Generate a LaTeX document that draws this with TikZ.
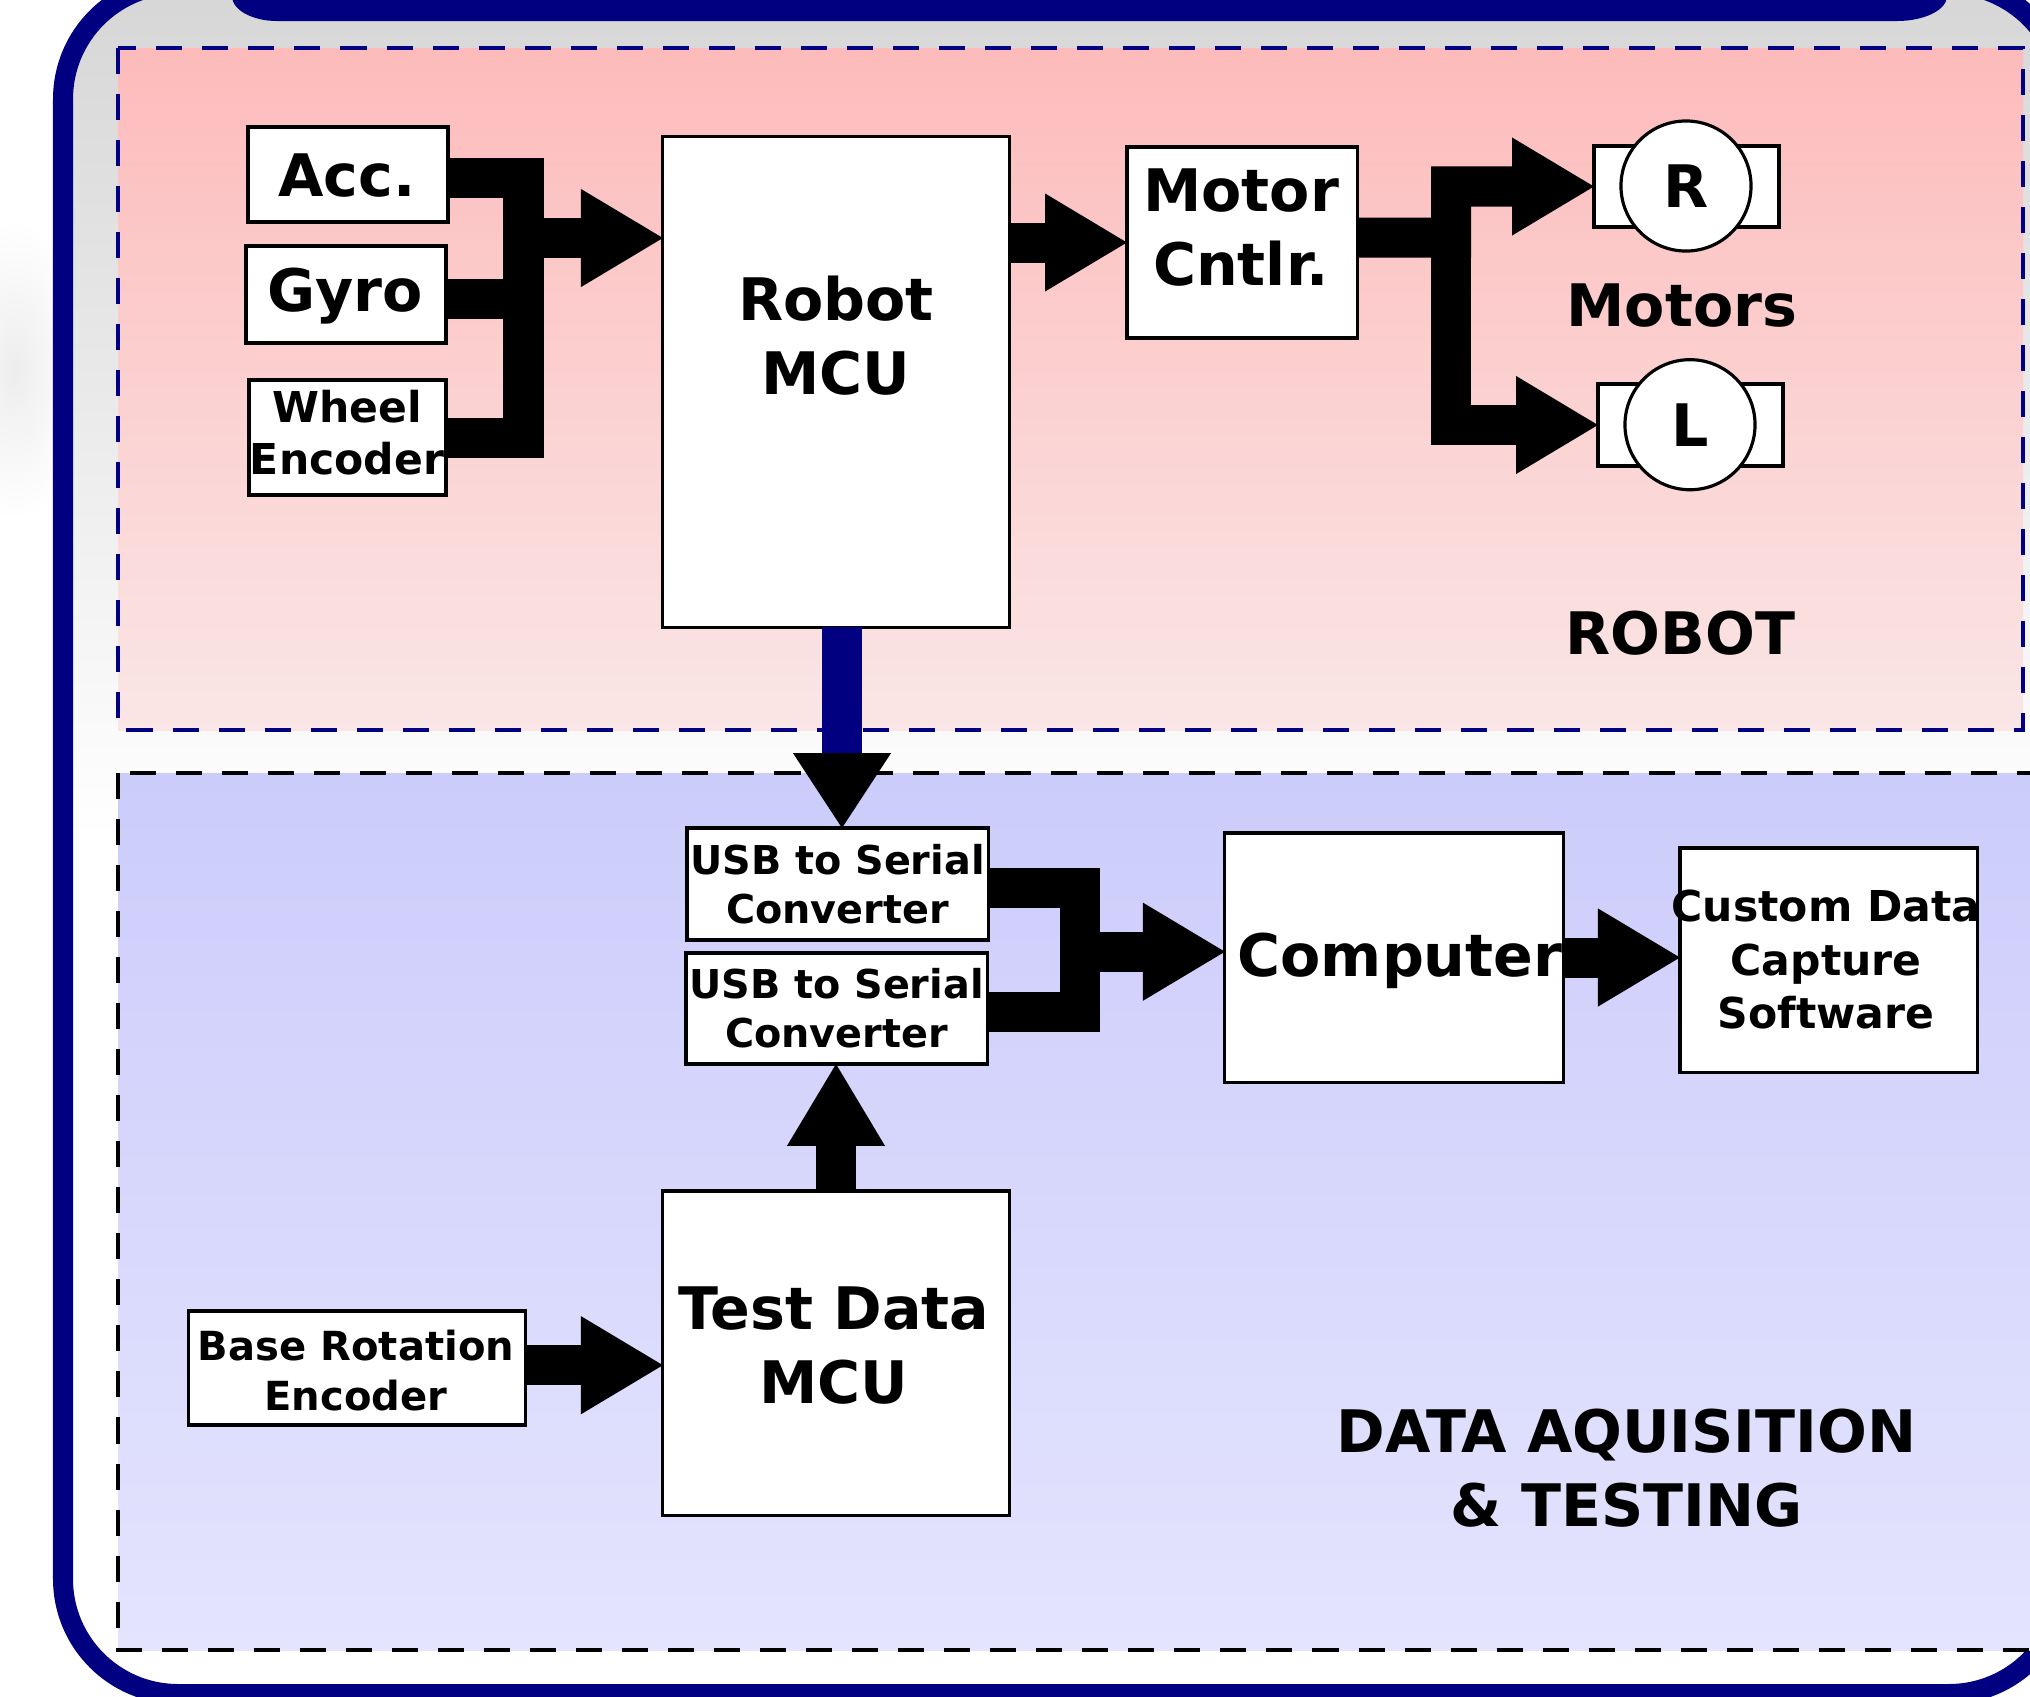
\documentclass[tikz,border=0pt]{standalone}
\usepackage{fontspec}
\setmainfont{DejaVu Sans}
\usetikzlibrary{arrows.meta}
\definecolor{navyb}{HTML}{000080}
\definecolor{rtop}{RGB}{253,187,187}
\definecolor{rbot}{RGB}{250,230,230}
\definecolor{dtop}{RGB}{204,204,251}
\definecolor{dbot}{RGB}{228,228,254}
\definecolor{gtop}{RGB}{214,214,214}
\newcommand\mlines[1]{\begin{tabular}[t]{@{}c@{}}#1\end{tabular}}
\begin{document}
\begin{tikzpicture}[x=0.01cm,y=-0.01cm,
  box/.style={draw=black, fill=white, line width=0.9pt, inner sep=0pt, outer sep=0pt, rectangle},
  bigf/.style={font=\fontsize{16.67}{21.05}\selectfont\bfseries},
  usbf/.style={font=\fontsize{11.3}{14.03}\selectfont\bfseries},
  custf/.style={font=\fontsize{12.1}{15.17}\selectfont\bfseries},
  basef/.style={font=\fontsize{11.4}{14.4}\selectfont\bfseries},
  wheelf/.style={font=\fontsize{12.1}{14.9}\selectfont\bfseries},
  txt/.style={inner sep=0pt, outer sep=0pt, anchor=base},
  bus/.style={line width=11.38pt, line join=miter, line cap=butt, draw=black},
  busarrow/.style={bus, -{Triangle[length=23.3pt, width=27.9pt, line width=0pt]}},
  panel/.style={line width=1.05pt, dash pattern=on 7.4pt off 5.69pt}
]
\useasboundingbox (0,0) rectangle (2030,1696);
\begin{scope}
\clip (0,0) rectangle (2030,1696);
% faint glow outside the frame
\shade[inner color=black!7, outer color=white] (15,370) ellipse (70 and 150);
% outer frame
\draw[navyb, line width=5.69pt, rounded corners=1.15cm, top color=gtop, bottom color=white, middle color=white] (63,-16) rectangle (2064,1694);
% top tab
\fill[navyb] (232,-40) -- (232,-4) .. controls (232,9.8) and (252.1,21) .. (277,21) -- (1897,21) .. controls (1924.6,21) and (1947,9.8) .. (1947,-4) -- (1947,-40) -- cycle;
% panels
\draw[panel, draw=navyb, top color=rtop, bottom color=rbot] (118,48) rectangle (2023,730);
\draw[panel, draw=black, top color=dtop, bottom color=dbot] (118,773) rectangle (2045,1650);

% boxes
\node[box, minimum width=2cm, minimum height=0.95cm] (acc) at (348,174.5) {};
\node[box, minimum width=2cm, minimum height=0.97cm] (gyro) at (346,294.5) {};
\node[box, minimum width=1.97cm, minimum height=1.15cm] (wheel) at (347.5,437.5) {};
\node[box, minimum width=3.46cm, minimum height=4.9cm] (rmcu) at (836,382) {};
\node[box, minimum width=2.3cm, minimum height=1.91cm] (mc) at (1242,242.5) {};
\node[box, minimum width=1.85cm, minimum height=0.81cm] (rrect) at (1686.5,186.5) {};
\node[box, circle, minimum size=1.3cm, bigf] (rmot) at (1686,186) {R};
\node[box, minimum width=1.85cm, minimum height=0.82cm] (lrect) at (1690.5,425) {};
\node[box, circle, minimum size=1.3cm, bigf] (lmot) at (1690,424.7) {L};
\node[box, minimum width=3.01cm, minimum height=1.12cm] (usb1) at (837.5,884) {};
\node[box, minimum width=3.01cm, minimum height=1.11cm] (usb2) at (836.5,1008.5) {};
\node[box, minimum width=3.38cm, minimum height=2.49cm] (comp) at (1394,957.5) {};
\node[box, minimum width=2.97cm, minimum height=2.24cm] (cust) at (1828.5,960) {};
\node[box, minimum width=3.46cm, minimum height=3.24cm] (tmcu) at (836,1353) {};
\node[box, minimum width=3.36cm, minimum height=1.14cm] (base) at (357,1368) {};

% texts
\node[txt,bigf] (accT) at (347,196.4) {Acc.};
\node[txt,bigf] (gyroT) at (345,311) {Gyro};
\node[txt,wheelf] (wheelT) at (347,422.5) {\mlines{Wheel\\Encoder}};
\node[txt,bigf] (rmcuT) at (836,320) {\mlines{Robot\\MCU}};
\node[txt,bigf] (mcT) at (1241,211.7) {\mlines{Motor\\Cntlr.}};
\node[txt,bigf] (motorsT) at (1682,326.7) {Motors};
\node[txt,bigf] (robotT) at (1680.5,654) {ROBOT};
\node[txt,usbf] (usb1T) at (837.5,874) {\mlines{USB to Serial\\Converter}};
\node[txt,usbf] (usb2T) at (836.5,998.3) {\mlines{USB to Serial\\Converter}};
\node[txt,bigf] (compT) at (1400,976) {Computer};
\node[txt,custf] (custT) at (1826,921.7) {\mlines{Custom Data\\Capture\\Software}};
\node[txt,bigf] (tmcuT) at (834,1329.3) {\mlines{Test Data\\MCU}};
\node[txt,basef] (baseT) at (356,1360) {\mlines{Base Rotation\\Encoder}};
\node[txt,bigf] (daqT) at (1626.5,1452.7) {\mlines{DATA AQUISITION\\\& TESTING}};

% junction coordinates
\coordinate (js) at (523.5,238);
\coordinate (jm) at (1451,237.5);
\coordinate (ju) at (1079.5,951.7);
\coordinate (ux) at (842,0);
\coordinate (a1) at ([yshift=-1pt]acc.east);
\coordinate (g1) at ([yshift=-1.3pt]gyro.east);
\coordinate (u1) at ([yshift=-1.2pt]usb1.east);
\coordinate (u2) at ([yshift=-1.1pt]usb2.east);
\coordinate (m1) at ([yshift=1.4pt]mc.east);
\coordinate (b1) at ([yshift=0.8pt]base.east);

% sensor bus
\draw[bus] (a1) -- (js |- a1) -- (js |- wheel.east) -- (wheel.east);
\draw[bus] (g1) -- (js |- g1);
\draw[busarrow] (js) -- (rmcu.west |- js);
% robot mcu -> motor controller
\draw[busarrow] (rmcu.east |- mc.west) -- (mc.west);
% motor controller -> motors
\draw[busarrow] (m1) -- (jm) -- (jm |- rrect.west) -- (rrect.west);
\draw[busarrow] (jm) -- (jm |- lrect.west) -- (lrect.west);
% robot mcu -> usb (navy)
\draw[bus, draw=navyb, -{Triangle[length=21.3pt, width=27.9pt, line width=0pt, color=black]}] (rmcu.south -| ux) -- (usb1.north -| ux);
% usb -> computer
\draw[bus] (u1) -- (ju |- u1) -- (ju |- u2) -- (u2);
\draw[busarrow] (ju) -- (comp.west |- ju);
% computer -> software
\draw[busarrow] (comp.east) -- (cust.west |- comp.east);
% test mcu -> usb2
\draw[busarrow] (tmcu.north) -- (usb2.south -| tmcu.north);
% base encoder -> test mcu
\draw[busarrow] (b1) -- (tmcu.west |- b1);
\end{scope}
\end{tikzpicture}
\end{document}
